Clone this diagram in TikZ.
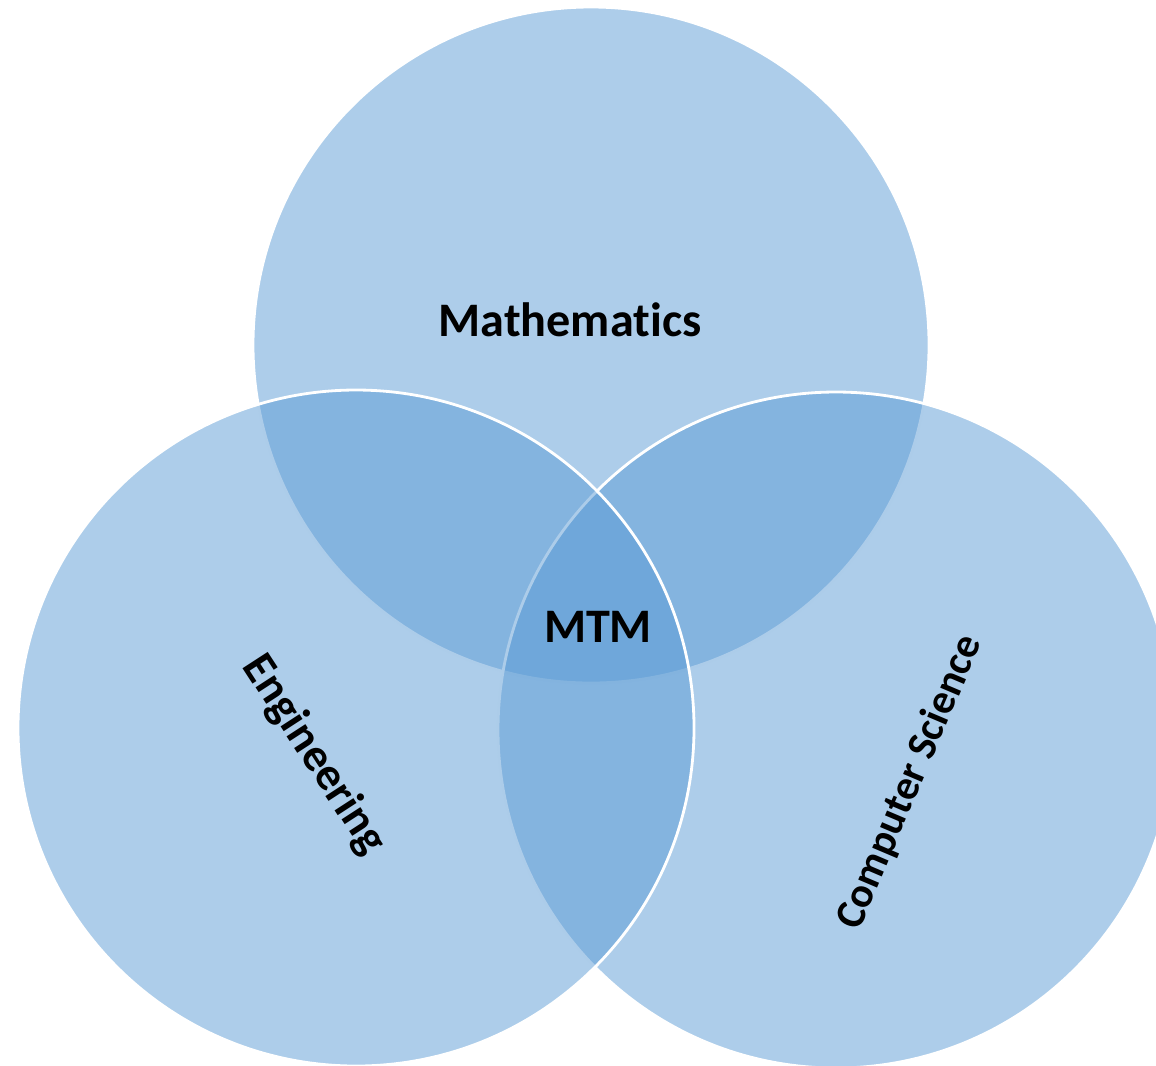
\documentclass[tikz,border=0pt]{standalone}
\usepackage{fontspec}
\setmainfont{Carlito}[Ligatures=NoCommon]
\definecolor{officeblue}{RGB}{91,155,213}

\begin{document}
\begin{tikzpicture}[
    field/.style={fill=officeblue, fill opacity=0.5, draw=white, line width=0.8pt},
    lbl/.style={font=\bfseries\fontsize{13.7}{16}\selectfont, text=black}
  ]
  \useasboundingbox (0,0) rectangle (11.56,-10.65);
  \clip (0,0) rectangle (11.56,-10.65);
  \draw[field] (5.91,-3.45) circle (3.38);
  \draw[field] (8.36,-7.30) circle (3.38);
  \draw[field] (3.56,-7.28) circle (3.38);
    \node[lbl] (math) at (5.70,-3.20) {Mathematics};
    \node[lbl] (mtm) at (5.98,-6.27) {MTM};
    \node[lbl, font=\bfseries\fontsize{13.2}{16}\selectfont, rotate=-57] (eng) at (3.14,-7.55) {Engineering};
    \node[lbl, font=\bfseries\fontsize{12}{15}\selectfont, rotate=67] (cs) at (9.10,-7.82) {Computer Science};
\end{tikzpicture}
\end{document}
